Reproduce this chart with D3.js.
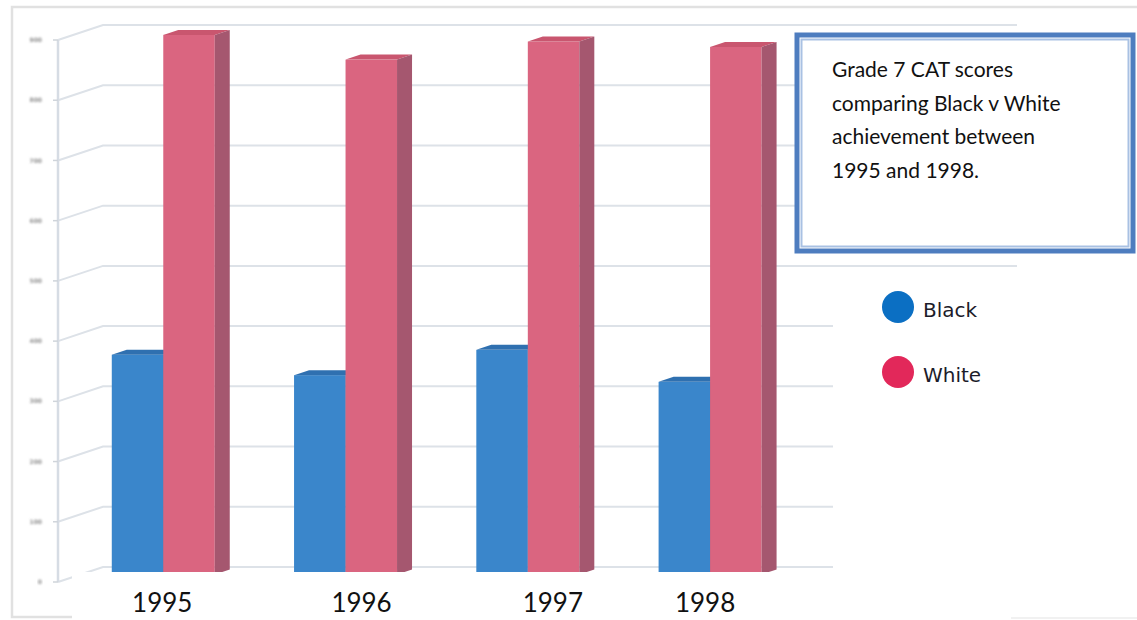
<!DOCTYPE html>
<html>
<head>
<meta charset="utf-8">
<script src="https://cdn.jsdelivr.net/npm/d3@7/dist/d3.min.js"></script>
<style>
  html, body { margin: 0; padding: 0; background: #ffffff; }
  svg { display: block; }
</style>
</head>
<body>
<svg id="chart" width="1137" height="620"></svg>
<script>
// ---- data ----
const years = ["1995", "1996", "1997", "1998"];
const series = ["Black", "White"];
const blackScores = [365, 331, 373, 320];
const whiteScores = [896, 855, 885, 876];
const yTicks = [0, 100, 200, 300, 400, 500, 600, 700, 800, 900];
const titleLines = ["Grade 7 CAT scores", "comparing Black v White", "achievement between", "1995 and 1998."];

// ---- layout ----
const W = 1137, H = 620;
const front = { left: 58, right: 788, top: 40, bottom: 582 };
const depth = { dx: 45, dy: 15 };          // offset of the back wall
const barDepth = { dx: 15, dy: 5 };        // thickness of each column
const barShift = { dx: 22.5, dy: 7.5 };    // columns sit halfway into the floor
const labelNudge = [-1, 16, 25, -5];

const colors = {
  Black: { front: "#3a86cb", top: "#2f70b0", side: "#2a5f95" },
  White: { front: "#da6580", top: "#c9566f", side: "#a5576f" }
};
const legendColors = { Black: "#0b6fc3", White: "#e2285a" };

const svg = d3.select("#chart");
const defs = svg.append("defs");
defs.append("filter").attr("id", "soft")
  .append("feGaussianBlur").attr("stdDeviation", 0.9);

const y = d3.scaleLinear().domain([0, 900]).range([front.bottom, front.top]);
const x = d3.scaleBand().domain(years)
  .range([front.left, front.right])
  .paddingInner(0.435).paddingOuter(0.22).align(0.39);
const xs = d3.scaleBand().domain(series).range([0, x.bandwidth()]);

const table = years.map((yr, i) => ({ year: yr, Black: blackScores[i], White: whiteScores[i] }));

// outer frame
svg.append("path")
  .attr("d", `M${W},7 L12,7 L12,617 L80,617`)
  .attr("fill", "none").attr("stroke", "#e1e1e1").attr("stroke-width", 2.5);

// side wall diagonals and back wall gridlines
const grid = svg.append("g").attr("stroke", "#dde2e8").attr("stroke-width", 2).attr("fill", "none");
yTicks.forEach(t => {
  const yy = y(t);
  const backEnd = (t >= 500) ? 1017 : 833;
  grid.append("path")
    .attr("d", `M${front.left},${yy} L${front.left + depth.dx},${yy - depth.dy} L${backEnd},${yy - depth.dy}`);
});

// y axis line, ticks and labels
const axis = svg.append("g");
axis.append("line")
  .attr("x1", front.left).attr("x2", front.left)
  .attr("y1", y(900)).attr("y2", y(0))
  .attr("stroke", "#d6dce4").attr("stroke-width", 2.5);
const tickG = axis.selectAll("g.tick").data(yTicks).join("g")
  .attr("transform", d => `translate(0,${y(d)})`);
tickG.append("line")
  .attr("x1", front.left - 5).attr("x2", front.left)
  .attr("stroke", "#cfd4da").attr("stroke-width", 1.5);
tickG.append("text")
  .attr("x", 42).attr("y", 0).attr("dy", "0.35em")
  .attr("text-anchor", "end")
  .attr("font-family", "DejaVu Sans").attr("font-size", 6).attr("font-weight", "bold")
  .attr("fill", "#8f8f8f").attr("filter", "url(#soft)")
  .text(d => d);

// 3D columns
function drawColumn(g, x0, w, yTop, yBot, c) {
  const dx = barDepth.dx, dy = barDepth.dy;
  g.append("rect").attr("x", x0).attr("y", yTop).attr("width", w).attr("height", yBot - yTop)
    .attr("fill", c.front);
  g.append("path")
    .attr("d", `M${x0},${yTop} L${x0 + dx},${yTop - dy} L${x0 + w + dx},${yTop - dy} L${x0 + w},${yTop} Z`)
    .attr("fill", c.top);
  g.append("path")
    .attr("d", `M${x0 + w},${yTop} L${x0 + w + dx},${yTop - dy} L${x0 + w + dx},${yBot - dy} L${x0 + w},${yBot} Z`)
    .attr("fill", c.side);
}

const bars = svg.append("g");
table.forEach(row => {
  series.forEach(s => {
    const g = bars.append("g").attr("class", "bar " + s);
    const x0 = x(row.year) + xs(s) + barShift.dx;
    drawColumn(g, x0, xs.bandwidth(), y(row[s]) - barShift.dy, y(0) - barShift.dy, colors[s]);
  });
});

// blank strip behind the year labels
svg.append("rect").attr("x", 72).attr("y", 572).attr("width", 939).attr("height", 48).attr("fill", "#ffffff");
svg.append("line").attr("x1", 1011).attr("x2", W).attr("y1", 618).attr("y2", 618)
  .attr("stroke", "#ececec").attr("stroke-width", 1.5);

// year labels
svg.append("g").selectAll("text").data(years).join("text")
  .attr("x", (d, i) => x(d) + barShift.dx + x.bandwidth() / 2 + labelNudge[i])
  .attr("y", 612)
  .attr("text-anchor", "middle")
  .attr("font-family", "Lato, 'Open Sans', sans-serif").attr("font-size", 26)
  .attr("fill", "#111")
  .text(d => d);

// legend panel
svg.append("rect").attr("x", 834).attr("y", 268).attr("width", 180).attr("height", 295).attr("fill", "#ffffff");
const legend = svg.append("g").selectAll("g").data(series).join("g")
  .attr("transform", (d, i) => `translate(898,${307 + i * 65})`);
legend.append("circle").attr("r", 16).attr("fill", d => legendColors[d]);
legend.append("text").attr("x", 25).attr("y", 10)
  .attr("font-family", "DejaVu Sans").attr("font-size", 20).attr("fill", "#1c1c2a")
  .text(d => d);

// title box
const tb = svg.append("g");
tb.append("rect").attr("x", 797).attr("y", 35).attr("width", 336).attr("height", 216)
  .attr("fill", "#ffffff").attr("stroke", "#4e7dbf").attr("stroke-width", 5);
tb.append("rect").attr("x", 801.5).attr("y", 39.5).attr("width", 327).attr("height", 207)
  .attr("fill", "none").attr("stroke", "#a9c1e3").attr("stroke-width", 2);
tb.append("g").selectAll("text").data(titleLines).join("text")
  .attr("x", 832).attr("y", (d, i) => 77 + i * 33.5)
  .attr("font-family", "Lato, 'Open Sans', sans-serif").attr("font-size", 21)
  .attr("fill", "#111")
  .text(d => d);
</script>
</body>
</html>
